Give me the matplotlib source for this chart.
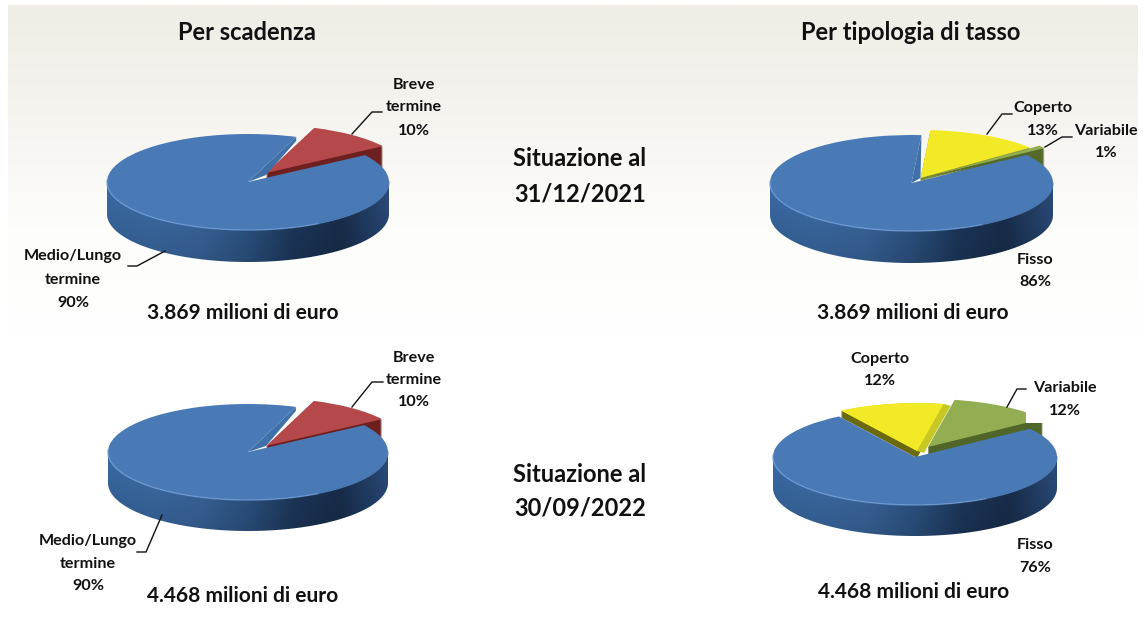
import numpy as np
import matplotlib
matplotlib.use("Agg")
import matplotlib.pyplot as plt
from matplotlib.colors import LinearSegmentedColormap
from matplotlib.patches import Polygon, Rectangle

plt.rcParams['font.family'] = ['Lato', 'DejaVu Sans']

# ---- data ----
column_titles = ["Per scadenza", "Per tipologia di tasso"]
period_labels = [["Situazione al", "31/12/2021"], ["Situazione al", "30/09/2022"]]
totals = ["3.869 milioni di euro", "4.468 milioni di euro"]

scadenza_2021 = [90, 10]
scadenza_2022 = [90, 10]
tasso_2021 = [86, 1, 13]
tasso_2022 = [76, 12, 12]

BLUE, RED, GREEN, YELLOW = '#4a7ab6', '#b5484a', '#93ae52', '#f2ea26'
W, H = 1145, 635
fig = plt.figure(figsize=(W / 100, H / 100), dpi=100, facecolor='white')

# ---- background ----
bg = fig.add_axes([0, 0, 1, 1], zorder=0)
bg.set_xlim(0, W); bg.set_ylim(H, 0); bg.axis('off')
cm_bg = LinearSegmentedColormap.from_list('bg', ['#f0ede6', '#f6f4ef', '#fdfdfb', '#ffffff'])
bg.imshow(np.linspace(0, 1, 256)[:, None], cmap=cm_bg, extent=(8, 1138, 338, 5), aspect='auto', zorder=0)
bg.set_xlim(0, W); bg.set_ylim(H, 0)

# ---- 3D pie helper ----
side_cm = LinearSegmentedColormap.from_list(
    'side', ['#3a6aa5', '#3d6ea9', '#3c6aa3', '#2f5788', '#1e3a60', '#1a3050', '#2a4c7c'])


def pie3d(values, colors, dark, start, cx, cy, rx, ry, depth, offsets,
          face_depth=None, light_face=None, mask=None, cut_face=None):
    top_px, bot_px = cy - ry * 1.7, cy + ry + depth + 8
    left_px, right_px = cx - rx * 1.25, cx + rx * 1.25
    ax = fig.add_axes([left_px / W, 1 - bot_px / H, (right_px - left_px) / W, (bot_px - top_px) / H], zorder=1)
    z = [2.0]
    face_depth = face_depth or {}
    light_face = light_face or {}

    def layer(idx, color, dx, dy):
        cols = [color if i == idx else 'none' for i in range(len(values))]
        ax.pie(values, colors=cols, startangle=start, radius=1,
               center=(dx / rx, -dy / ry),
               wedgeprops=dict(linewidth=0, zorder=z[0], antialiased=True))
        z[0] += 0.005

    # exploded slices: radial faces first, then the tops
    for idx in range(len(values) - 1, 0, -1):
        ox, oy = offsets[idx]
        for s in np.arange(1, face_depth.get(idx, depth) + 1):
            layer(idx, dark[idx], ox, oy + s)
        if idx in light_face:
            shift, drop, col = light_face[idx]
            for s in np.arange(1, shift + 1):
                layer(idx, col, ox + s, oy + drop * s / shift)
    for idx in range(1, len(values)):
        ox, oy = offsets[idx]
        layer(idx, colors[idx], ox, oy)

    # background-coloured box trimming a slice corner, as in the reference
    if mask is not None:
        x0, y0, x1, y1 = mask
        ax.add_patch(Rectangle(((x0 - cx) / rx, (cy - y1) / ry), (x1 - x0) / rx, (y1 - y0) / ry,
                               facecolor='white', linewidth=0, zorder=2.95))

    # outer side of the main slice
    t = np.radians(np.linspace(180, 360, 200))
    xs = np.r_[np.cos(t), np.cos(t[::-1])]
    ys = np.r_[np.sin(t) - depth / ry, np.sin(t[::-1])]
    X, Y = np.meshgrid(np.linspace(0, 1, 300), np.linspace(0, 1, 60))
    rgb = side_cm(X)[..., :3] * (1 - 0.18 * Y[..., None])
    im = ax.imshow(rgb, extent=(-1, 1, -1 - depth / ry, 0), aspect='auto', zorder=3, origin='upper')
    im.set_clip_path(Polygon(np.c_[xs, ys], closed=True, transform=ax.transData))

    # main slice top
    z[0] = 3.5
    layer(0, BLUE, 0, 0)

    # narrow cut face next to the start angle of the main slice
    if cut_face is not None:
        a = np.radians(start)
        ox, oy = cut_face
        ax.add_patch(Polygon([(0, 0), (np.cos(a), np.sin(a)), (np.cos(a), np.sin(a) - 4 / ry),
                              (ox / rx, -oy / ry)], closed=True, facecolor='#4070a9', linewidth=0, zorder=3.6))

    # highlight along the front rim
    tt = np.radians(np.linspace(178, 300, 120))
    ax.plot(np.cos(tt), np.sin(tt), color='#6c9bd6', lw=1.1, alpha=0.7, zorder=4)
    tt = np.radians(np.linspace(300, 360, 60))
    ax.plot(np.cos(tt), np.sin(tt), color='#3e6ca6', lw=1.0, alpha=0.6, zorder=4)

    ax.set_aspect('auto')
    ax.set_xlim((left_px - cx) / rx, (right_px - cx) / rx)
    ax.set_ylim((cy - bot_px) / ry, (cy - top_px) / ry)
    ax.axis('off')
    ax.patch.set_alpha(0)


pie3d(scadenza_2021, [BLUE, RED], [None, '#6e1f20'], 70, 248, 182, 141, 48, 32,
      [(0, 0), (18, -9)], cut_face=(18, -7))
pie3d(scadenza_2022, [BLUE, RED], [None, '#6e1f20'], 70, 248, 452, 140, 48, 31,
      [(0, 0), (18, -6)], cut_face=(18, -6))
pie3d(tasso_2021, [BLUE, GREEN, YELLOW], [None, '#556a2a', '#7d8a35'], 86, 911.5, 183, 141.5, 48, 32,
      [(0, 0), (18, -7), (9, -5)], cut_face=(9, -5), face_depth={2: 3})
pie3d(tasso_2022, [BLUE, GREEN, YELLOW], [None, '#4f6628', '#6b6a10'], 122.4, 915, 457, 142, 48, 31,
      [(0, 0), (13, -10), (2, -6)],
      face_depth={2: 7}, light_face={2: (7, 2, '#c8c824')},
      mask=(1026, 390, 1065, 423))

# ---- text overlay ----
ov = fig.add_axes([0, 0, 1, 1], zorder=5)
ov.set_xlim(0, W); ov.set_ylim(H, 0); ov.axis('off'); ov.patch.set_alpha(0)


def txt(x, y, s, size=11.6):
    ov.text(x, y, s, ha='center', va='center', fontsize=size, fontweight='bold', color='#111111')


txt(247, 33, column_titles[0], 17)
txt(911, 33, column_titles[1], 17)
for (y1, y2), lab in zip([(159, 194), (474, 508)], period_labels):
    txt(580, y1, lab[0], 17)
    txt(580, y2, lab[1], 17)
for (x, y), s in zip([(243, 313), (913, 313)], [totals[0]] * 2):
    txt(x, y, s, 15)
for (x, y), s in zip([(243, 596), (914, 592)], [totals[1]] * 2):
    txt(x, y, s, 15)

# top-left
txt(414, 85, "Breve"); txt(414, 107, "termine"); txt(414, 131, f"{scadenza_2021[1]}%")
txt(73, 256, "Medio/Lungo"); txt(73, 280, "termine"); txt(73, 303, f"{scadenza_2021[0]}%")
# bottom-left
txt(414, 358, "Breve"); txt(414, 380, "termine"); txt(414, 402, f"{scadenza_2022[1]}%")
txt(88, 541, "Medio/Lungo"); txt(88, 564, "termine"); txt(88, 586, f"{scadenza_2022[0]}%")
# top-right
txt(1043, 108, "Coperto"); txt(1043, 131, f"{tasso_2021[2]}%")
txt(1106, 131, "Variabile"); txt(1106, 153, f"{tasso_2021[1]}%")
txt(1035, 260, "Fisso"); txt(1035, 282, f"{tasso_2021[0]}%")
# bottom-right
txt(880, 359, "Coperto"); txt(880, 381, f"{tasso_2022[2]}%")
txt(1065, 388, "Variabile"); txt(1065, 411, f"{tasso_2022[1]}%")
txt(1035, 545, "Fisso"); txt(1035, 568, f"{tasso_2022[0]}%")

# leader lines
for pts in [[(165, 251), (137, 266), (128, 266)],
            [(352, 134), (372, 112), (382, 112)],
            [(352, 407), (372, 382), (383, 382)],
            [(162, 515), (146, 552), (137, 552)],
            [(987, 134), (1002, 114), (1012, 114)],
            [(1045, 147), (1062, 137), (1072, 137)],
            [(1007, 407), (1017, 389), (1026, 389)]]:
    xs, ys = zip(*pts)
    ov.plot(xs, ys, color='#111111', lw=1.0)

fig.savefig('out.png', dpi=100)
